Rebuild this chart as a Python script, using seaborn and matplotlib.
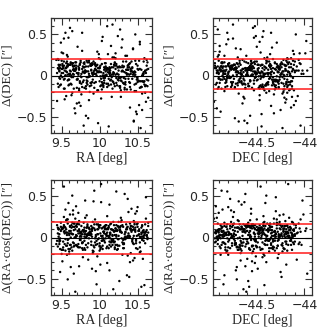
import numpy as np
import pandas as pd
import matplotlib
matplotlib.use("Agg")
import matplotlib.pyplot as plt
from matplotlib.ticker import MultipleLocator
import seaborn as sns

ra = [
9.47, 10.12, 9.83, 10.41, 9.58, 10.27, 9.95, 10.60, 9.66, 10.05, 9.52, 10.33,
9.74, 10.48, 9.61, 10.19, 9.89, 10.55, 9.44, 10.08, 9.78, 10.36, 9.69, 10.24,
9.91, 10.62, 9.55, 10.15, 9.81, 10.44, 9.63, 10.01, 9.49, 10.29, 9.86, 10.52,
9.72, 10.10, 9.57, 10.39, 9.98, 10.58, 9.65, 10.21, 9.80, 10.46, 9.50, 10.03,
9.76, 10.31, 9.93, 10.64, 9.60, 10.17, 9.85, 10.43, 9.68, 10.07, 9.45, 10.26,
9.88, 10.50, 9.71, 10.13, 9.54, 10.37, 9.97, 10.56, 9.62, 10.22, 9.79, 10.47,
9.51, 10.00, 9.73, 10.34, 9.90, 10.61, 9.59, 10.14, 9.84, 10.40, 9.67, 10.09,
9.48, 10.28, 9.94, 10.53, 9.70, 10.18, 9.56, 10.42, 9.82, 10.04, 9.64, 10.32,
9.99, 10.57, 9.46, 10.11, 9.77, 10.45, 9.53, 10.23, 9.87, 10.63, 9.66, 10.06,
9.75, 10.38, 9.92, 10.51, 9.58, 10.16, 9.80, 10.30, 9.69, 10.02, 9.43, 10.25,
9.96, 10.59, 9.61, 10.20, 9.83, 10.49, 9.52, 10.11, 9.73, 10.35, 9.89, 10.54,
9.57, 10.08, 9.78, 10.44, 9.64, 10.26, 9.95, 10.60, 9.49, 10.13, 9.86, 10.39,
9.71, 10.01, 9.55, 10.33, 9.91, 10.47, 9.62, 10.19, 9.81, 10.56, 9.68, 10.05,
9.47, 10.28, 9.97, 10.52, 9.74, 10.15, 9.59, 10.41, 9.85, 10.03, 9.65, 10.36,
9.93, 10.62, 9.50, 10.22, 9.79, 10.48, 9.56, 10.10, 9.88, 10.31, 9.70, 10.58,
9.60, 10.07, 9.76, 10.43, 9.53, 10.24, 9.90, 10.55, 9.67, 10.17, 9.82, 10.37,
9.46, 10.00, 9.72, 10.29, 9.98, 10.64, 9.58, 10.12, 9.84, 10.46, 9.63, 10.21,
9.87, 10.50, 9.54, 10.06, 9.77, 10.34, 9.94, 10.59, 9.66, 10.14, 9.80, 10.40,
9.51, 10.27, 9.69, 10.09, 9.92, 10.53, 9.61, 10.18, 9.75, 10.45, 9.57, 10.02,
9.99, 10.32, 9.83, 10.61, 9.48, 10.23, 9.73, 10.04, 9.89, 10.49, 9.65, 10.16,
9.44, 9.90, 10.37, 9.63, 10.09, 10.55, 9.72, 10.20, 9.53, 9.99, 10.46, 9.81,
10.28, 9.58, 10.04, 10.63, 9.67, 10.15, 9.47, 9.94, 10.41, 9.76, 10.24, 10.57,
9.61, 10.07, 9.85, 10.33, 9.50, 10.12, 10.51, 9.70, 10.18, 9.88, 10.39, 9.55,
10.02, 10.60, 9.79, 10.26, 9.45, 9.97, 10.44, 9.65, 10.14, 9.91, 10.35, 9.74,
10.21, 10.53, 9.52, 10.06, 9.84, 10.30, 9.60, 10.48, 9.96, 10.17, 9.69, 10.42,
9.48, 10.10, 9.87, 10.58, 9.75, 10.25, 9.57, 10.01, 10.36, 9.82, 10.13, 9.64,
10.47, 9.93, 10.22, 9.54, 10.05, 10.61, 9.71, 10.31, 9.86, 10.16, 9.46, 10.40,
9.78, 10.08, 10.54, 9.62, 10.27, 9.98, 9.51, 10.19, 10.45, 9.73, 10.03, 9.89,
10.34, 9.59, 10.11, 10.62, 9.80, 10.23, 9.66, 9.95, 10.49, 9.56, 10.14, 9.83,
10.29, 9.49, 10.00, 10.56, 9.77, 10.20, 9.68, 10.38, 9.92, 10.06, 9.61, 10.43,
9.86, 10.12, 9.53, 10.32, 9.99, 10.59, 9.74, 10.18, 9.45, 10.25, 9.90, 10.50,
9.65, 10.04, 10.37, 9.80, 10.15, 9.56, 10.46, 9.96, 10.27, 9.70, 10.09, 10.64,
9.58, 10.21, 9.88, 10.41, 9.52, 10.01, 10.33, 9.76, 10.13, 9.63, 10.52, 9.94,
10.07, 9.47, 10.30, 9.84, 10.57, 9.69, 10.17, 9.97, 10.44, 9.60, 10.24, 9.81,
10.10, 9.54, 10.39, 9.91, 10.03, 10.60, 9.72, 10.20, 9.50, 10.35, 9.87, 10.48,
9.67, 10.14, 9.79, 10.26, 9.57, 10.05, 10.53, 9.93, 10.22, 9.64, 10.42, 9.85,
10.11, 9.46, 10.31, 9.75, 10.00, 10.56, 9.62, 10.19, 9.89, 10.38, 9.55, 10.08,
10.45, 9.82, 10.28, 9.68, 10.02, 10.62, 9.95, 10.16, 9.51, 10.34, 9.78, 10.50,
9.59, 10.23, 9.90, 10.40, 9.73, 10.06, 10.55, 9.66, 10.13, 9.98, 10.29, 9.48,
10.18, 9.83, 10.47, 9.61, 10.09, 10.36, 9.77, 10.25, 9.53, 10.00, 10.58, 9.86,
]

dec = [
-44.83, -44.41, -44.12, -44.67, -44.29, -44.91, -44.55, -44.18, -44.74, -44.36, -44.05, -44.62,
-44.48, -44.88, -44.22, -44.70, -44.33, -44.58, -44.09, -44.79, -44.44, -44.15, -44.93, -44.51,
-44.26, -44.65, -44.81, -44.38, -44.02, -44.72, -44.47, -44.19, -44.86, -44.57, -44.31, -44.11,
-44.69, -44.43, -44.90, -44.24, -44.60, -44.35, -44.77, -44.14, -44.52, -44.84, -44.27, -43.98,
-44.63, -44.39, -44.87, -44.21, -44.54, -44.75, -44.08, -44.46, -44.32, -44.94, -44.17, -44.59,
-44.80, -44.28, -44.50, -44.66, -44.13, -44.42, -44.89, -44.23, -44.71, -44.37, -44.04, -44.56,
-44.45, -44.76, -44.20, -44.61, -44.85, -44.30, -44.53, -44.10, -44.68, -44.40, -44.92, -44.25,
-44.73, -44.16, -44.49, -44.82, -44.34, -44.64, -44.07, -44.56, -44.87, -44.27, -44.43, -44.78,
-44.18, -44.60, -44.90, -44.38, -44.12, -44.69, -44.46, -44.83, -44.22, -44.53, -43.97, -44.66,
-44.35, -44.74, -44.28, -44.57, -44.91, -44.14, -44.48, -44.80, -44.31, -44.63, -44.06, -44.42,
-44.85, -44.19, -44.54, -44.71, -44.26, -44.45, -44.93, -44.11, -44.62, -44.36, -44.77, -44.23,
-44.50, -44.88, -44.15, -44.67, -44.40, -44.82, -44.03, -44.58, -44.29, -44.72, -44.47, -44.17,
-44.64, -44.33, -44.86, -44.21, -44.55, -44.09, -44.76, -44.44, -44.92, -44.25, -44.61, -44.38,
-44.79, -44.13, -44.51, -44.68, -44.30, -44.89, -44.41, -44.20, -44.73, -44.56, -44.01, -44.84,
-44.27, -44.59, -44.46, -44.81, -44.16, -44.37, -44.70, -44.52, -44.94, -44.24, -44.65, -44.10,
-44.43, -44.87, -44.32, -44.60, -44.75, -44.18, -44.49, -44.83, -44.06, -44.39, -44.57, -44.78,
-44.22, -44.66, -44.90, -44.34, -44.53, -44.12, -44.71, -44.45, -44.86, -44.28, -44.62, -43.99,
-44.48, -44.80, -44.19, -44.58, -44.35, -44.74, -44.04, -44.42, -44.91, -44.26, -44.67, -44.14,
-44.55, -44.31, -44.84, -44.21, -44.69, -44.47, -44.08, -44.77, -44.40, -44.63, -44.88, -44.17,
-44.36, -44.72, -44.52, -44.95, -44.25, -44.60, -44.11, -44.44, -44.82, -44.30, -44.05, -44.64,
-44.52, -44.19, -44.76, -44.33, -44.88, -44.45, -44.61, -44.24, -44.82, -44.40, -44.15, -44.70,
-44.28, -44.91, -44.56, -44.13, -44.67, -44.36, -44.79, -44.49, -44.22, -44.85, -44.58, -44.31,
-44.73, -44.43, -44.17, -44.64, -44.90, -44.37, -44.26, -44.55, -44.80, -44.20, -44.68, -44.46,
-44.34, -44.84, -44.59, -44.12, -44.71, -44.42, -44.27, -44.87, -44.53, -44.18, -44.63, -44.39,
-44.78, -44.30, -44.50, -44.93, -44.23, -44.66, -44.44, -44.14, -44.75, -44.57, -44.35, -44.86,
-44.21, -44.62, -44.81, -44.41, -44.16, -44.69, -44.54, -44.29, -44.89, -44.47, -44.10, -44.74,
-44.38, -44.83, -44.25, -44.60, -44.46, -44.92, -44.32, -44.72, -44.19, -44.51, -44.65, -44.27,
-44.85, -44.43, -44.14, -44.68, -44.36, -44.79, -44.57, -44.22, -44.90, -44.48, -44.31, -44.62,
-44.17, -44.74, -44.52, -44.88, -44.29, -44.40, -44.66, -44.12, -44.81, -44.55, -44.24, -44.70,
-44.45, -44.93, -44.33, -44.59, -44.77, -44.20, -44.49, -44.84, -44.37, -44.63, -44.15, -44.56,
-44.71, -44.26, -44.87, -44.42, -44.60, -44.13, -44.80, -44.35, -44.53, -44.91, -44.21, -44.67,
-44.30, -44.76, -44.50, -44.18, -44.86, -44.44, -44.64, -44.28, -44.73, -44.39, -44.58, -44.82,
-44.23, -44.55, -44.89, -44.34, -44.69, -44.47, -44.16, -44.78, -44.41, -44.61, -44.27, -44.94,
-44.52, -44.19, -44.75, -44.32, -44.84, -44.57, -44.43, -44.11, -44.66, -44.88, -44.36, -44.48,
-44.62, -44.90, -44.25, -44.70, -44.38, -44.54, -44.83, -44.21, -44.46, -44.77, -44.14, -44.59,
-44.35, -44.81, -44.50, -44.28, -44.72, -44.18, -44.64, -44.42, -44.92, -44.31, -44.56, -44.85,
-44.40, -44.67, -44.22, -44.79, -44.53, -44.33, -44.87, -44.47, -44.17, -44.74, -44.60, -44.26,
-44.91, -44.44, -44.58, -44.20, -44.68, -44.37, -44.82, -44.51, -44.29, -44.65, -44.13, -44.76,
-44.49, -44.24, -44.86, -44.39, -44.61, -44.15, -44.73, -44.55, -44.32, -44.89, -44.43, -44.70,
-44.27, -44.57, -44.80, -44.45, -44.19, -44.66, -44.35, -44.90, -44.52, -44.23, -44.75, -44.41,
]

d_dec = [
0.05, -0.12, 0.18, 0.02, -0.06, 0.56, 0.11, -0.21, 0.08, -0.03, 0.27, -0.15,
0.13, -0.44, 0.01, 0.22, -0.09, 0.07, -0.31, 0.15, 0.04, -0.17, 0.09, 0.48,
-0.05, 0.19, 0.52, -0.11, 0.06, 0.33, -0.24, 0.12, 0.00, -0.07, 0.16, -0.36,
0.03, -0.14, 0.25, 0.10, -0.58, 0.04, -0.02, 0.21, 0.14, -0.19, 0.08, 0.42,
-0.10, 0.17, 0.06, -0.27, 0.01, 0.62, 0.11, -0.04, -0.46, 0.09, 0.20, -0.13,
0.14, -0.08, 0.35, 0.02, -0.16, 0.07, 0.29, -0.22, 0.05, 0.12, -0.61, 0.18,
-0.02, 0.10, -0.33, 0.24, 0.03, -0.12, 0.46, 0.06, -0.07, 0.15, -0.40, 0.01,
0.09, -0.18, 0.13, 0.38, -0.05, 0.04, -0.25, 0.17, 0.11, -0.10, 0.54, -0.03,
0.21, 0.00, -0.14, 0.07, 0.30, -0.56, 0.12, 0.02, -0.20, 0.16, 0.06, -0.09,
-0.37, 0.13, 0.04, -0.06, 0.23, 0.10, -0.15, 0.44, 0.08, -0.28, 0.19, 0.01,
0.06, -0.11, 0.58, 0.15, -0.02, -0.47, 0.09, 0.26, -0.16, 0.03, 0.12, -0.64,
0.17, 0.05, -0.08, 0.32, -0.21, 0.11, 0.02, -0.13, 0.40, 0.07, -0.30, 0.14,
-0.04, 0.20, 0.09, -0.17, 0.01, 0.50, -0.10, 0.13, 0.06, -0.42, 0.16, 0.03,
0.11, -0.26, 0.04, 0.18, -0.07, 0.36, -0.12, 0.08, -0.52, 0.14, 0.02, 0.24,
-0.15, 0.07, 0.28, -0.03, 0.10, -0.19, 0.05, 0.60, 0.12, -0.09, -0.34, 0.17,
0.02, 0.15, -0.23, 0.09, 0.45, -0.05, 0.13, -0.14, 0.06, 0.22, -0.49, 0.10,
0.19, -0.07, 0.03, 0.34, -0.18, 0.08, 0.01, -0.62, 0.16, 0.05, -0.11, 0.27,
-0.01, 0.12, -0.29, 0.07, 0.52, -0.04, 0.14, 0.21, -0.16, 0.09, 0.03, -0.39,
0.08, -0.13, 0.16, 0.00, -0.22, 0.41, 0.06, -0.08, 0.18, -0.55, 0.11, 0.04,
0.26, -0.10, 0.05, -0.32, 0.13, 0.02, -0.18, 0.47, 0.07, -0.05, 0.15, -0.26,
0.03, -0.08, 0.12, -0.02, 0.07, -0.14, 0.01, 0.16, -0.05, 0.09, -0.11, 0.04,
-0.06, 0.11, 0.00, -0.13, 0.06, 0.14, -0.03, 0.08, -0.17, 0.02, 0.10, -0.07,
0.13, -0.01, 0.05, -0.10, 0.18, -0.04, 0.07, -0.15, 0.02, 0.12, -0.08, 0.00,
-0.12, 0.06, 0.15, -0.03, 0.09, -0.18, 0.04, 0.11, -0.06, 0.01, 0.17, -0.09,
0.08, -0.15, 0.03, 0.10, -0.02, 0.06, -0.11, 0.14, 0.00, -0.07, 0.12, 0.05,
-0.04, 0.09, -0.13, 0.02, 0.16, -0.06, 0.11, -0.01, 0.07, -0.16, 0.04, 0.13,
0.01, -0.09, 0.14, 0.06, -0.12, 0.03, -0.05, 0.10, 0.18, -0.02, 0.08, -0.14,
0.11, 0.00, -0.07, 0.15, -0.03, 0.05, 0.12, -0.10, 0.02, 0.09, -0.17, 0.06,
-0.08, 0.13, 0.04, -0.05, 0.10, -0.12, 0.01, 0.07, -0.02, 0.15, 0.03, -0.09,
0.05, -0.11, 0.09, 0.00, -0.14, 0.12, 0.06, -0.04, 0.17, -0.06, 0.02, 0.10,
-0.01, 0.08, -0.16, 0.11, 0.04, -0.07, 0.14, 0.01, -0.10, 0.06, 0.13, -0.03,
0.07, -0.12, 0.02, 0.16, -0.05, 0.09, -0.01, 0.12, -0.15, 0.03, 0.08, -0.06,
0.14, 0.01, -0.09, 0.05, 0.11, -0.13, 0.04, -0.02, 0.10, 0.00, -0.07, 0.15,
-0.03, 0.06, 0.12, -0.11, 0.02, 0.08, -0.16, 0.13, 0.01, -0.05, 0.10, 0.04,
0.09, -0.04, 0.01, 0.14, -0.08, 0.05, 0.11, -0.13, 0.03, 0.07, -0.01, -0.10,
0.12, 0.00, -0.06, 0.10, 0.04, -0.14, 0.08, 0.02, -0.09, 0.15, 0.06, -0.02,
-0.10, 0.13, 0.05, -0.01, 0.09, -0.07, 0.16, 0.03, -0.12, 0.07, 0.00, 0.11,
0.04, -0.13, 0.10, 0.06, -0.04, 0.12, -0.08, 0.01, 0.14, -0.11, 0.05, 0.08,
-0.05, 0.02, 0.15, -0.09, 0.07, 0.00, -0.14, 0.11, 0.03, 0.09, -0.02, -0.12,
0.10, -0.06, 0.04, 0.13, -0.10, 0.01, 0.08, -0.03, 0.17, 0.05, -0.08, 0.02,
]

d_ra = [
-0.08, 0.14, 0.03, -0.19, 0.22, 0.09, -0.41, 0.06, 0.17, -0.02, 0.11, 0.53,
0.01, -0.13, 0.28, 0.07, -0.05, -0.60, 0.15, 0.04, -0.24, 0.12, 0.38, -0.10,
0.19, 0.02, -0.16, 0.10, 0.45, -0.07, 0.05, -0.33, 0.13, 0.21, -0.01, 0.08,
-0.12, 0.26, 0.06, -0.48, 0.16, 0.00, 0.33, -0.09, 0.04, 0.18, -0.20, 0.11,
0.07, -0.03, 0.57, 0.14, -0.17, 0.02, -0.27, 0.09, 0.23, -0.06, 0.12, -0.53,
0.03, 0.17, -0.11, 0.40, 0.05, -0.22, 0.10, 0.01, -0.36, 0.15, 0.07, 0.29,
0.12, -0.07, 0.20, -0.02, 0.08, 0.49, -0.14, 0.04, 0.16, -0.30, 0.00, 0.10,
-0.04, 0.24, 0.09, -0.18, 0.13, -0.63, 0.06, 0.35, -0.09, 0.02, 0.18, -0.13,
0.15, -0.26, 0.01, 0.11, -0.06, 0.20, 0.62, -0.15, 0.07, -0.02, -0.44, 0.13,
0.05, 0.31, -0.10, 0.08, 0.17, -0.04, 0.12, -0.21, 0.03, 0.43, -0.08, 0.19,
-0.57, 0.06, 0.14, -0.12, 0.27, 0.02, -0.05, 0.10, -0.35, 0.16, 0.04, -0.17,
0.22, -0.01, 0.09, -0.28, 0.51, 0.13, -0.09, 0.06, 0.18, -0.40, 0.11, 0.02,
0.08, -0.14, 0.34, 0.04, -0.19, 0.12, 0.00, -0.06, 0.24, 0.15, -0.66, 0.07,
-0.03, 0.19, -0.23, 0.10, 0.05, -0.11, 0.42, 0.14, -0.07, 0.01, 0.28, -0.46,
0.16, 0.03, -0.15, 0.56, 0.09, -0.04, 0.21, -0.31, 0.06, 0.13, -0.10, 0.02,
-0.20, 0.11, 0.07, -0.05, 0.25, 0.14, -0.38, 0.04, 0.17, -0.09, 0.00, 0.47,
0.10, -0.16, 0.30, 0.06, -0.02, 0.18, -0.51, 0.12, 0.03, -0.25, 0.15, 0.08,
0.04, 0.37, -0.08, 0.13, -0.13, 0.01, 0.22, -0.58, 0.09, 0.16, -0.04, 0.11,
-0.29, 0.07, 0.14, 0.02, 0.44, -0.12, 0.05, 0.19, -0.03, 0.10, -0.21, 0.65,
0.13, -0.07, 0.01, 0.23, -0.42, 0.08, 0.16, -0.14, 0.04, 0.32, -0.06, 0.10,
-0.04, 0.10, 0.02, -0.12, 0.15, 0.06, -0.08, 0.03, 0.13, -0.01, 0.09, -0.15,
0.07, -0.03, 0.12, 0.00, -0.10, 0.17, 0.04, -0.06, 0.11, 0.01, -0.14, 0.08,
-0.09, 0.14, 0.05, -0.02, 0.10, -0.13, 0.03, 0.16, -0.05, 0.07, 0.00, 0.12,
0.02, -0.07, 0.18, 0.09, -0.11, 0.04, -0.01, 0.13, 0.06, -0.16, 0.10, -0.03,
0.11, 0.01, -0.12, 0.05, 0.14, -0.06, 0.08, -0.02, 0.16, 0.03, -0.09, 0.07,
-0.14, 0.06, 0.10, -0.04, 0.02, 0.12, -0.10, 0.15, 0.00, 0.08, -0.05, 0.04,
0.09, -0.12, 0.03, 0.13, -0.01, 0.07, 0.17, -0.08, 0.05, -0.03, 0.11, 0.01,
-0.06, 0.15, 0.00, -0.09, 0.12, 0.04, -0.15, 0.08, 0.02, 0.10, -0.04, 0.14,
0.06, -0.02, 0.11, 0.03, -0.13, 0.09, -0.07, 0.01, 0.16, -0.10, 0.05, 0.12,
-0.01, 0.08, -0.11, 0.14, 0.04, -0.05, 0.10, 0.02, -0.17, 0.07, 0.13, -0.03,
0.12, 0.00, 0.07, -0.08, 0.15, 0.03, -0.12, 0.09, 0.05, -0.02, 0.11, -0.14,
0.04, -0.10, 0.13, 0.01, -0.06, 0.10, 0.16, -0.04, 0.08, 0.02, -0.13, 0.06,
-0.07, 0.11, 0.03, 0.09, -0.15, 0.05, 0.00, 0.14, -0.09, 0.12, 0.04, -0.01,
0.10, -0.05, 0.15, -0.12, 0.06, 0.01, 0.09, -0.08, 0.13, 0.03, -0.02, 0.07,
-0.11, 0.08, 0.02, 0.12, -0.04, 0.16, 0.05, -0.14, 0.10, 0.00, 0.06, -0.07,
0.13, -0.01, 0.09, -0.10, 0.03, 0.07, -0.06, 0.11, 0.01, -0.16, 0.14, 0.04,
0.02, 0.10, -0.13, 0.06, 0.12, -0.03, 0.08, 0.15, -0.09, 0.05, -0.02, 0.11,
-0.08, 0.04, 0.14, 0.00, -0.12, 0.09, 0.03, -0.05, 0.11, 0.07, -0.15, 0.13,
0.05, -0.09, 0.01, 0.17, 0.08, -0.04, 0.12, -0.11, 0.02, 0.10, 0.06, -0.01,
-0.03, 0.12, 0.07, -0.14, 0.04, 0.10, -0.07, 0.02, 0.15, -0.10, 0.09, 0.03,
]

# red reference levels per panel (upper, lower)
red_tl = [0.20, -0.20]
red_tr = [0.20, -0.16]
red_bl = [0.19, -0.20]
red_br = [0.17, -0.19]

n = min(len(ra), len(dec), len(d_ra), len(d_dec))
df = pd.DataFrame({"ra": ra[:n], "dec": dec[:n], "d_ra": d_ra[:n], "d_dec": d_dec[:n]})

sns.set_style("ticks")
plt.rcParams["font.family"] = ["DejaVu Sans"]

fig = plt.figure(figsize=(3.32, 3.32), dpi=100)
W, H = 332.0, 332.0
def pos(l, t, r, b):
    return [l / W, 1 - b / H, (r - l) / W, (b - t) / H]

axes_spec = [
    (pos(51, 18, 152, 133), "ra", "d_dec", red_tl, "RA [deg]", "Δ(DEC) [″]"),
    (pos(213, 18, 312, 133), "dec", "d_dec", red_tr, "DEC [deg]", "Δ(DEC) [″]"),
    (pos(51, 180, 152, 295), "ra", "d_ra", red_bl, "RA [deg]", "Δ(RA·cos(DEC)) [″]"),
    (pos(213, 180, 312, 295), "dec", "d_ra", red_br, "DEC [deg]", "Δ(RA·cos(DEC)) [″]"),
]

for rect, xcol, ycol, reds, xl, yl in axes_spec:
    ax = fig.add_axes(rect)
    ax.axhline(0, color="black", lw=0.8, zorder=1)
    sns.scatterplot(data=df, x=xcol, y=ycol, ax=ax, s=3, color="black",
                    marker="o", edgecolor="none", linewidth=0, zorder=2)
    for r in reds:
        ax.axhline(r, color="#ff1a1a", lw=1.1, zorder=3)
    ax.set_ylim(-0.7, 0.7)
    if xcol == "ra":
        ax.set_xlim(9.36, 10.69)
        ax.set_xticks([9.5, 10, 10.5])
        ax.set_xticklabels(["9.5", "10", "10.5"])
    else:
        ax.set_xlim(-44.96, -43.92)
        ax.set_xticks([-44.5, -44])
        ax.set_xticklabels(["−44.5", "−44"])
    ax.xaxis.set_minor_locator(MultipleLocator(0.1))
    ax.set_yticks([-0.5, 0, 0.5])
    ax.set_yticklabels(["−0.5", "0", "0.5"])
    ax.yaxis.set_minor_locator(MultipleLocator(0.1))
    ax.tick_params(which="both", direction="in", top=True, right=True,
                   color="#333333", width=0.8, labelsize=9, pad=3)
    ax.tick_params(which="major", length=5)
    ax.tick_params(which="minor", length=2.5)
    for s in ax.spines.values():
        s.set_linewidth(0.9)
        s.set_color("#333333")
    ax.set_xlabel(xl, fontsize=10, family="Liberation Serif", labelpad=1)
    ax.set_ylabel(yl, fontsize=9.5, family=["Liberation Serif", "DejaVu Serif"], labelpad=2)

fig.savefig("out.png", dpi=100)
